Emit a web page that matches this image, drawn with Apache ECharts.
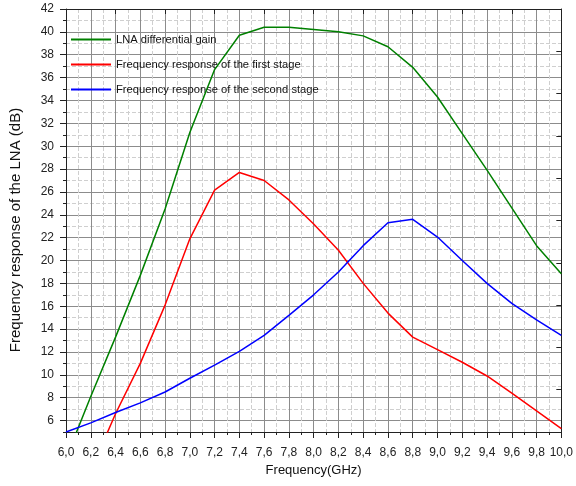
<!DOCTYPE html>
<html>
<head>
<meta charset="utf-8">
<script src="https://cdn.jsdelivr.net/npm/echarts@6/dist/echarts.min.js"></script>
<style>
html,body{margin:0;padding:0;background:#fff;}
#c{width:576px;height:486px;}
</style>
</head>
<body>
<div id="c"></div>
<script>
// Frequency points (GHz)
const freq = [6.0, 6.2, 6.4, 6.6, 6.8, 7.0, 7.2, 7.4, 7.6, 7.8, 8.0, 8.2, 8.4, 8.6, 8.8, 9.0, 9.2, 9.4, 9.6, 9.8, 10.0];
// LNA differential gain (dB)
const gainTotal = [2.7, 8.1, 13.3, 18.7, 24.5, 31.2, 36.7, 39.7, 40.4, 40.4, 40.2, 40.0, 39.65, 38.7, 36.9, 34.3, 31.1, 27.9, 24.6, 21.3, 18.85];
// First stage (dB)
const gainFirst = [-3.4, 1.6, 6.6, 11.0, 16.1, 21.9, 26.15, 27.7, 27.0, 25.3, 23.2, 20.9, 18.0, 15.4, 13.3, 12.2, 11.1, 9.9, 8.4, 6.85, 5.3];
// Second stage (dB)
const gainSecond = [5.0, 5.8, 6.7, 7.55, 8.5, 9.7, 10.85, 12.05, 13.45, 15.2, 17.0, 19.0, 21.3, 23.3, 23.6, 22.05, 20.0, 18.0, 16.25, 14.8, 13.45];

const seriesNames = ['LNA differential gain', 'Frequency response of the first stage', 'Frequency response of the second stage'];
// y tick labels (even dB values)
const yTickLabels = [6, 8, 10, 12, 14, 16, 18, 20, 22, 24, 26, 28, 30, 32, 34, 36, 38, 40, 42];
// right-axis tick marks (10 divisions of 5..42)
const rightTicks = [5, 8.7, 12.4, 16.1, 19.8, 23.5, 27.2, 30.9, 34.6, 38.3, 42];

const FONT = '"Liberation Sans", Arial, sans-serif';
const pairs = arr => freq.map((f, i) => [f, arr[i]]);

const chart = echarts.init(document.getElementById('c'), null, {renderer: 'canvas'});
chart.setOption({
  animation: false,
  backgroundColor: '#fff',
  grid: {left: 66, right: 12, top: 9, bottom: 54, containLabel: false},
  graphic: [{
    type: 'text', x: 16, y: 230, rotation: Math.PI / 2,
    style: {text: 'Frequency response of the LNA (dB)', fontFamily: FONT, fontSize: 15,
      fill: '#111', align: 'center', verticalAlign: 'middle'}
  }],
  legend: {
    orient: 'vertical', left: 71, top: 34, padding: 0, itemGap: 14,
    itemWidth: 40, itemHeight: 2, icon: 'rect',
    textStyle: {fontFamily: FONT, fontSize: 11.2, color: '#111'},
    data: seriesNames
  },
  xAxis: [{
    type: 'value', position: 'bottom', min: 6, max: 10, interval: 0.2,
    name: 'Frequency(GHz)', nameLocation: 'middle', nameGap: 30,
    nameTextStyle: {fontFamily: FONT, fontSize: 13, color: '#111'},
    axisLine: {show: true, lineStyle: {color: '#222', width: 1}},
    axisTick: {show: true, inside: false, length: 6, lineStyle: {color: '#222'}},
    minorTick: {show: true, splitNumber: 2, length: 3, lineStyle: {color: '#222'}},
    axisLabel: {fontFamily: FONT, fontSize: 12, color: '#222', margin: 15,
      formatter: v => v.toFixed(1).replace('.', ',')},
    splitLine: {show: true, lineStyle: {color: '#8c8c8c', width: 1}},
    minorSplitLine: {show: true, lineStyle: {color: '#cfcfcf', width: 1, type: 'dashed'}}
  }, {
    type: 'value', position: 'top', min: 6, max: 10, interval: 0.4,
    axisLine: {show: true, lineStyle: {color: '#222', width: 1}},
    axisTick: {show: true, inside: true, length: 5, lineStyle: {color: '#222'}},
    axisLabel: {show: false},
    splitLine: {show: false}
  }],
  yAxis: [{
    type: 'value', position: 'left', min: 5, max: 42, interval: 1,
    axisLine: {show: true, lineStyle: {color: '#222', width: 1}},
    axisTick: {show: true, inside: false, length: 3, lineStyle: {color: '#222'}},
    axisLabel: {fontFamily: FONT, fontSize: 12, color: '#222', margin: 12,
      formatter: v => (v % 2 === 0 ? String(v) : '')},
    splitLine: {show: true, lineStyle: {color: '#cfcfcf', width: 1, type: 'dashed'}}
  }, {
    type: 'value', position: 'left', min: 5, max: 42,
    axisLine: {show: false},
    axisTick: {show: true, inside: false, length: 6, customValues: yTickLabels, lineStyle: {color: '#222'}},
    axisLabel: {show: false, customValues: yTickLabels},
    splitLine: {show: true, lineStyle: {color: '#8c8c8c', width: 1}}
  }, {
    type: 'value', position: 'right', min: 5, max: 42,
    axisLine: {show: true, lineStyle: {color: '#222', width: 1}},
    axisTick: {show: true, inside: true, length: 5, customValues: rightTicks, lineStyle: {color: '#222'}},
    axisLabel: {show: false, customValues: rightTicks},
    splitLine: {show: false}
  }],
  series: [{
    name: seriesNames[0], type: 'line', xAxisIndex: 0, yAxisIndex: 0,
    data: pairs(gainTotal), showSymbol: false, symbol: 'none', clip: true,
    lineStyle: {color: '#008000', width: 1.5}, itemStyle: {color: '#008000'}, z: 5
  }, {
    name: seriesNames[1], type: 'line', xAxisIndex: 0, yAxisIndex: 0,
    data: pairs(gainFirst), showSymbol: false, symbol: 'none', clip: true,
    lineStyle: {color: '#ff0000', width: 1.5}, itemStyle: {color: '#ff0000'}, z: 5
  }, {
    name: seriesNames[2], type: 'line', xAxisIndex: 0, yAxisIndex: 0,
    data: pairs(gainSecond), showSymbol: false, symbol: 'none', clip: true,
    lineStyle: {color: '#0000ff', width: 1.5}, itemStyle: {color: '#0000ff'}, z: 5
  }]
});
</script>
</body>
</html>
